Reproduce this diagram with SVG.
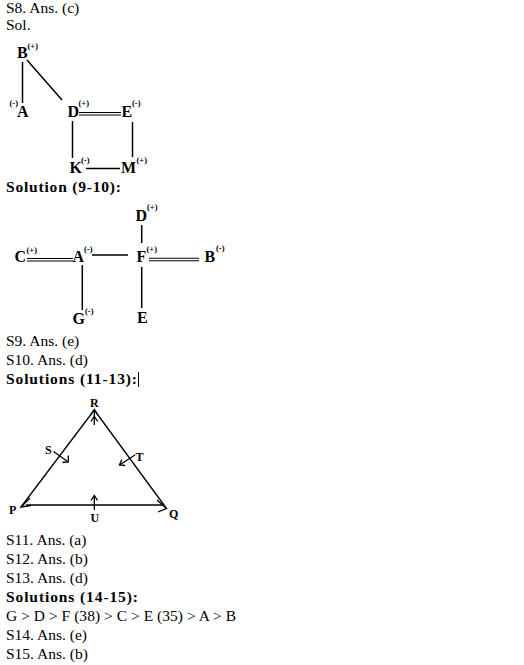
<svg xmlns="http://www.w3.org/2000/svg" width="524" height="665" viewBox="0 0 524 665">
<style>
.t{font-family:"Liberation Serif","Times New Roman",serif;font-size:15.5px;fill:#000}
.b{font-weight:bold}
.n{font-family:"Liberation Serif","Times New Roman",serif;font-size:16px;font-weight:bold;fill:#000}
.s{font-family:"Liberation Serif","Times New Roman",serif;font-size:8.5px;font-weight:bold;fill:#000}
.tn{font-family:"Liberation Serif","Times New Roman",serif;font-size:12px;font-weight:bold;fill:#000}
.l{stroke:#000;stroke-width:1.5;fill:none}
.d{stroke:#000;stroke-width:1.1;fill:none}
.a{stroke:#000;stroke-width:1.3;fill:none;stroke-linejoin:miter}
</style>
<rect width="524" height="665" fill="#fff"/>
<g id="texts">
<text class="t" x="6" y="13">S8. Ans. (c)</text>
<text class="t" x="6" y="30">Sol.</text>
<text class="t b" x="6" y="192" textLength="115" lengthAdjust="spacing">Solution (9-10):</text>
<text class="t" x="6" y="346">S9. Ans. (e)</text>
<text class="t" x="6" y="365">S10. Ans. (d)</text>
<text class="t b" x="6" y="384" textLength="131" lengthAdjust="spacing">Solutions (11-13):</text>
<line x1="138.5" y1="372" x2="138.5" y2="387" stroke="#000" stroke-width="1"/>
<text class="t" x="6" y="545">S11. Ans. (a)</text>
<text class="t" x="6" y="564">S12. Ans. (b)</text>
<text class="t" x="6" y="583">S13. Ans. (d)</text>
<text class="t b" x="6" y="602" textLength="132" lengthAdjust="spacing">Solutions (14-15):</text>
<text class="t" x="6" y="621" textLength="230" lengthAdjust="spacing">G &gt; D &gt; F (38) &gt; C &gt; E (35) &gt; A &gt; B</text>
<text class="t" x="6" y="640">S14. Ans. (e)</text>
<text class="t" x="6" y="659">S15. Ans. (b)</text>
</g>
<g id="connectors">
<line class="l" x1="22.5" y1="62" x2="22.5" y2="103"/>
<line class="l" x1="27" y1="60" x2="62" y2="100"/>
<line class="d" x1="79" y1="112.5" x2="121" y2="112.5"/>
<line class="d" x1="79" y1="115" x2="121" y2="115"/>
<line class="l" x1="72.5" y1="121" x2="72.5" y2="158"/>
<line class="l" x1="132.5" y1="122" x2="132.5" y2="157"/>
<line class="l" x1="86" y1="168.5" x2="120" y2="168.5"/>
<line class="d" x1="27" y1="258.5" x2="73" y2="258.5"/>
<line class="d" x1="27" y1="261" x2="73" y2="261"/>
<line class="l" x1="92" y1="255" x2="128" y2="255"/>
<line class="l" x1="82.3" y1="265" x2="82.3" y2="310"/>
<line class="l" x1="141.7" y1="225" x2="141.7" y2="243"/>
<line class="d" x1="149" y1="258.3" x2="199" y2="258.3"/>
<line class="d" x1="149" y1="260.8" x2="199" y2="260.8"/>
<line class="l" x1="141.7" y1="267" x2="141.7" y2="308"/>
<line class="a" x1="21" y1="507" x2="94.3" y2="410"/>
<line class="a" x1="94.3" y1="410" x2="166.5" y2="508.5"/>
<line class="a" x1="26" y1="505" x2="162" y2="505"/>
<polyline class="a" points="30,498 21,507 31,505.5"/>
<polyline class="a" points="157,500 166.5,508.5 158,512"/>
<line class="a" x1="94.3" y1="410" x2="94.3" y2="425"/>
<polyline class="a" points="90.8,414.5 94.3,409.5 97.8,414.5"/>
<polyline class="a" points="90.8,421.5 94.3,416.5 97.8,421.5"/>
<line class="a" x1="53.5" y1="451.5" x2="68.3" y2="462"/>
<polyline class="a" points="68.3,455.5 68.3,462 62.5,462.5"/>
<line class="a" x1="135" y1="455" x2="119.5" y2="465"/>
<polyline class="a" points="121.8,459.5 119.5,465 125,465.5"/>
<line class="a" x1="94.3" y1="510" x2="94.3" y2="496"/>
<polyline class="a" points="91,500.5 94.3,495.5 97.6,500.5"/>
</g>
<g id="node-B1"><text class="n" x="17" y="58">B</text><text class="s" x="27.5" y="49">(+)</text></g>
<g id="node-A1"><text class="n" x="17" y="117">A</text><text class="s" x="9.5" y="106">(-)</text></g>
<g id="node-D1"><text class="n" x="67.5" y="117">D</text><text class="s" x="78.5" y="106">(+)</text></g>
<g id="node-E1"><text class="n" x="121.5" y="117">E</text><text class="s" x="132" y="106">(-)</text></g>
<g id="node-K1"><text class="n" x="69.5" y="173">K</text><text class="s" x="81" y="163">(-)</text></g>
<g id="node-M1"><text class="n" x="121" y="173">M</text><text class="s" x="136.5" y="163">(+)</text></g>
<g id="node-C2"><text class="n" x="14.5" y="262">C</text><text class="s" x="26.5" y="253">(+)</text></g>
<g id="node-A2"><text class="n" x="72.5" y="262">A</text><text class="s" x="84" y="252">(-)</text></g>
<g id="node-G2"><text class="n" x="72.5" y="324">G</text><text class="s" x="85" y="314">(-)</text></g>
<g id="node-D2"><text class="n" x="135.5" y="221">D</text><text class="s" x="147" y="210">(+)</text></g>
<g id="node-F2"><text class="n" x="136.5" y="262">F</text><text class="s" x="146.5" y="252">(+)</text></g>
<g id="node-B2"><text class="n" x="204.5" y="262">B</text><text class="s" x="216" y="251">(-)</text></g>
<g id="node-E2"><text class="n" x="137" y="323">E</text></g>
<g id="node-R"><text class="tn" x="90" y="407">R</text></g>
<g id="node-S"><text class="tn" x="45" y="454">S</text></g>
<g id="node-T"><text class="tn" x="135.5" y="461">T</text></g>
<g id="node-P"><text class="tn" x="9" y="514">P</text></g>
<g id="node-Q"><text class="tn" x="169" y="518">Q</text></g>
<g id="node-U"><text class="tn" x="90.5" y="522">U</text></g>
</svg>
